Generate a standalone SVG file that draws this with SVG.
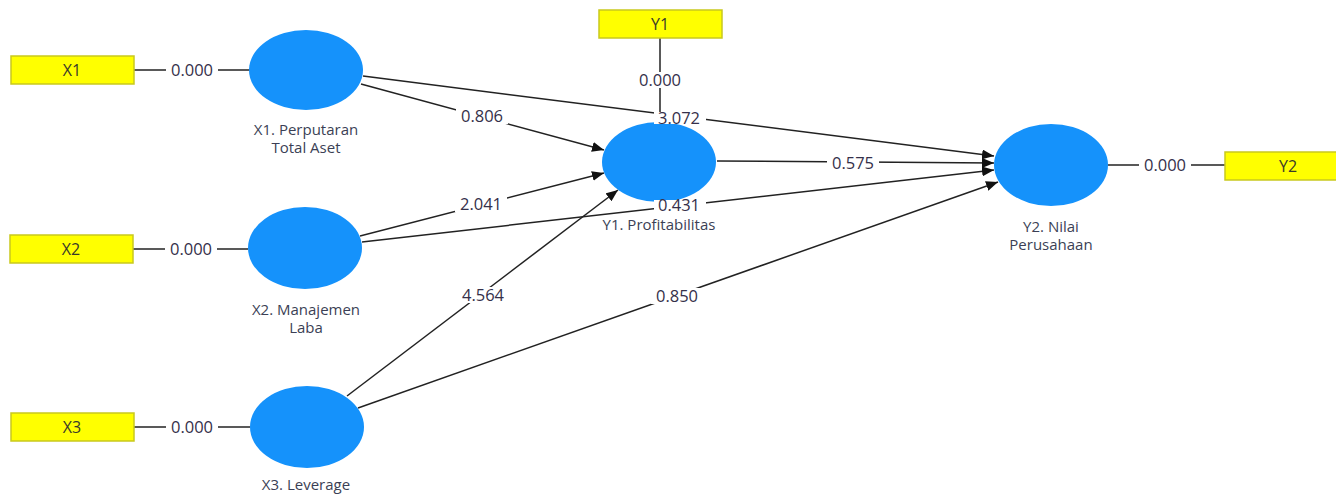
<svg xmlns="http://www.w3.org/2000/svg" width="1336" height="494" viewBox="0 0 1336 494">
  <style>
    .ind rect { fill: #ffff00; stroke: #c9c91e; stroke-width: 1.5; }
    .ind text { font-family: "Open Sans", "Noto Sans", sans-serif; font-size: 16px; fill: #3a3a2a; text-anchor: middle; }
    .lat ellipse { fill: #1592fb; }
    .lat text { font-family: "Open Sans", "Noto Sans", sans-serif; font-size: 15px; fill: #3b3f55; text-anchor: middle; }
    .edge { stroke: #222; stroke-width: 1.5; fill: none; }
    .lbl rect { fill: #ffffff; }
    .lbl text { font-family: "Open Sans", "Noto Sans", sans-serif; font-size: 16.5px; fill: #35304a; text-anchor: middle; }
  </style>
  <defs>
    <marker id="arrow" viewBox="0 0 12 10" refX="12" refY="5" markerWidth="12" markerHeight="10" markerUnits="userSpaceOnUse" orient="auto">
      <path d="M0,0 L12,5 L0,10 Z" fill="#111"/>
    </marker>
  </defs>

  <rect width="1336" height="494" fill="#ffffff"/>

  <!-- connectors -->
  <g id="connectors">
    <line class="edge" x1="134" y1="70" x2="250" y2="70"/>
    <line class="edge" x1="133" y1="249" x2="248" y2="249"/>
    <line class="edge" x1="134" y1="427" x2="250" y2="427"/>
    <line class="edge" x1="660" y1="38" x2="660" y2="122"/>
    <line class="edge" x1="1108" y1="165" x2="1225" y2="165"/>
    <line class="edge" x1="361" y1="84" x2="604" y2="150" marker-end="url(#arrow)"/>
    <line class="edge" x1="363" y1="76" x2="994" y2="156" marker-end="url(#arrow)"/>
    <line class="edge" x1="360" y1="236" x2="604" y2="173" marker-end="url(#arrow)"/>
    <line class="edge" x1="362" y1="242" x2="994" y2="170" marker-end="url(#arrow)"/>
    <line class="edge" x1="347" y1="396" x2="618" y2="190" marker-end="url(#arrow)"/>
    <line class="edge" x1="358" y1="408" x2="998" y2="182" marker-end="url(#arrow)"/>
    <line class="edge" x1="717" y1="161" x2="994" y2="163" marker-end="url(#arrow)"/>
  </g>

  <!-- indicator boxes -->
  <g id="X1" class="ind"><rect x="11" y="56" width="123" height="28"/><text x="72" y="76">X1</text></g>
  <g id="X2" class="ind"><rect x="10" y="235" width="123" height="28"/><text x="71" y="255">X2</text></g>
  <g id="X3" class="ind"><rect x="11" y="413" width="123" height="28"/><text x="72" y="433">X3</text></g>
  <g id="Y1" class="ind"><rect x="599" y="10" width="123" height="28"/><text x="660" y="30">Y1</text></g>
  <g id="Y2" class="ind"><rect x="1225" y="152" width="123" height="28"/><text x="1288" y="172">Y2</text></g>

  <!-- latent variables -->
  <g id="X1_Perputaran" class="lat">
    <ellipse cx="306" cy="70" rx="57" ry="40"/>
    <text x="306" y="135">X1. Perputaran</text>
    <text x="306" y="153">Total Aset</text>
  </g>
  <g id="X2_Manajemen" class="lat">
    <ellipse cx="305" cy="248" rx="57" ry="41"/>
    <text x="306" y="315">X2. Manajemen</text>
    <text x="306" y="333">Laba</text>
  </g>
  <g id="X3_Leverage" class="lat">
    <ellipse cx="307" cy="427" rx="57" ry="41"/>
    <text x="306" y="490">X3. Leverage</text>
  </g>
  <g id="Y1_Profitabilitas" class="lat">
    <ellipse cx="659" cy="162" rx="57" ry="40"/>
    <text x="659" y="230">Y1. Profitabilitas</text>
  </g>
  <g id="Y2_Nilai" class="lat">
    <ellipse cx="1051" cy="165" rx="57" ry="41"/>
    <text x="1051" y="232">Y2. Nilai</text>
    <text x="1051" y="250">Perusahaan</text>
  </g>

  <!-- path coefficients and loadings -->
  <g id="labels" class="lbl">
    <rect x="166" y="62" width="52" height="16"/><text x="192" y="76">0.000</text>
    <rect x="165" y="241" width="52" height="16"/><text x="191" y="255">0.000</text>
    <rect x="166" y="419" width="52" height="16"/><text x="192" y="433">0.000</text>
    <rect x="634" y="72" width="52" height="16"/><text x="660" y="86">0.000</text>
    <rect x="1139" y="157" width="52" height="16"/><text x="1165" y="171">0.000</text>
    <rect x="456" y="108" width="52" height="16"/><text x="482" y="122">0.806</text>
    <rect x="654" y="112" width="52" height="12"/><text x="679" y="124">3.072</text>
    <rect x="455" y="196" width="52" height="16"/><text x="481" y="210">2.041</text>
    <rect x="654" y="200" width="52" height="13"/><text x="679" y="211">0.431</text>
    <rect x="457" y="287" width="52" height="16"/><text x="483" y="301">4.564</text>
    <rect x="651" y="288" width="52" height="16"/><text x="677" y="302">0.850</text>
    <rect x="827" y="155" width="52" height="16"/><text x="853" y="169">0.575</text>
  </g>
</svg>
